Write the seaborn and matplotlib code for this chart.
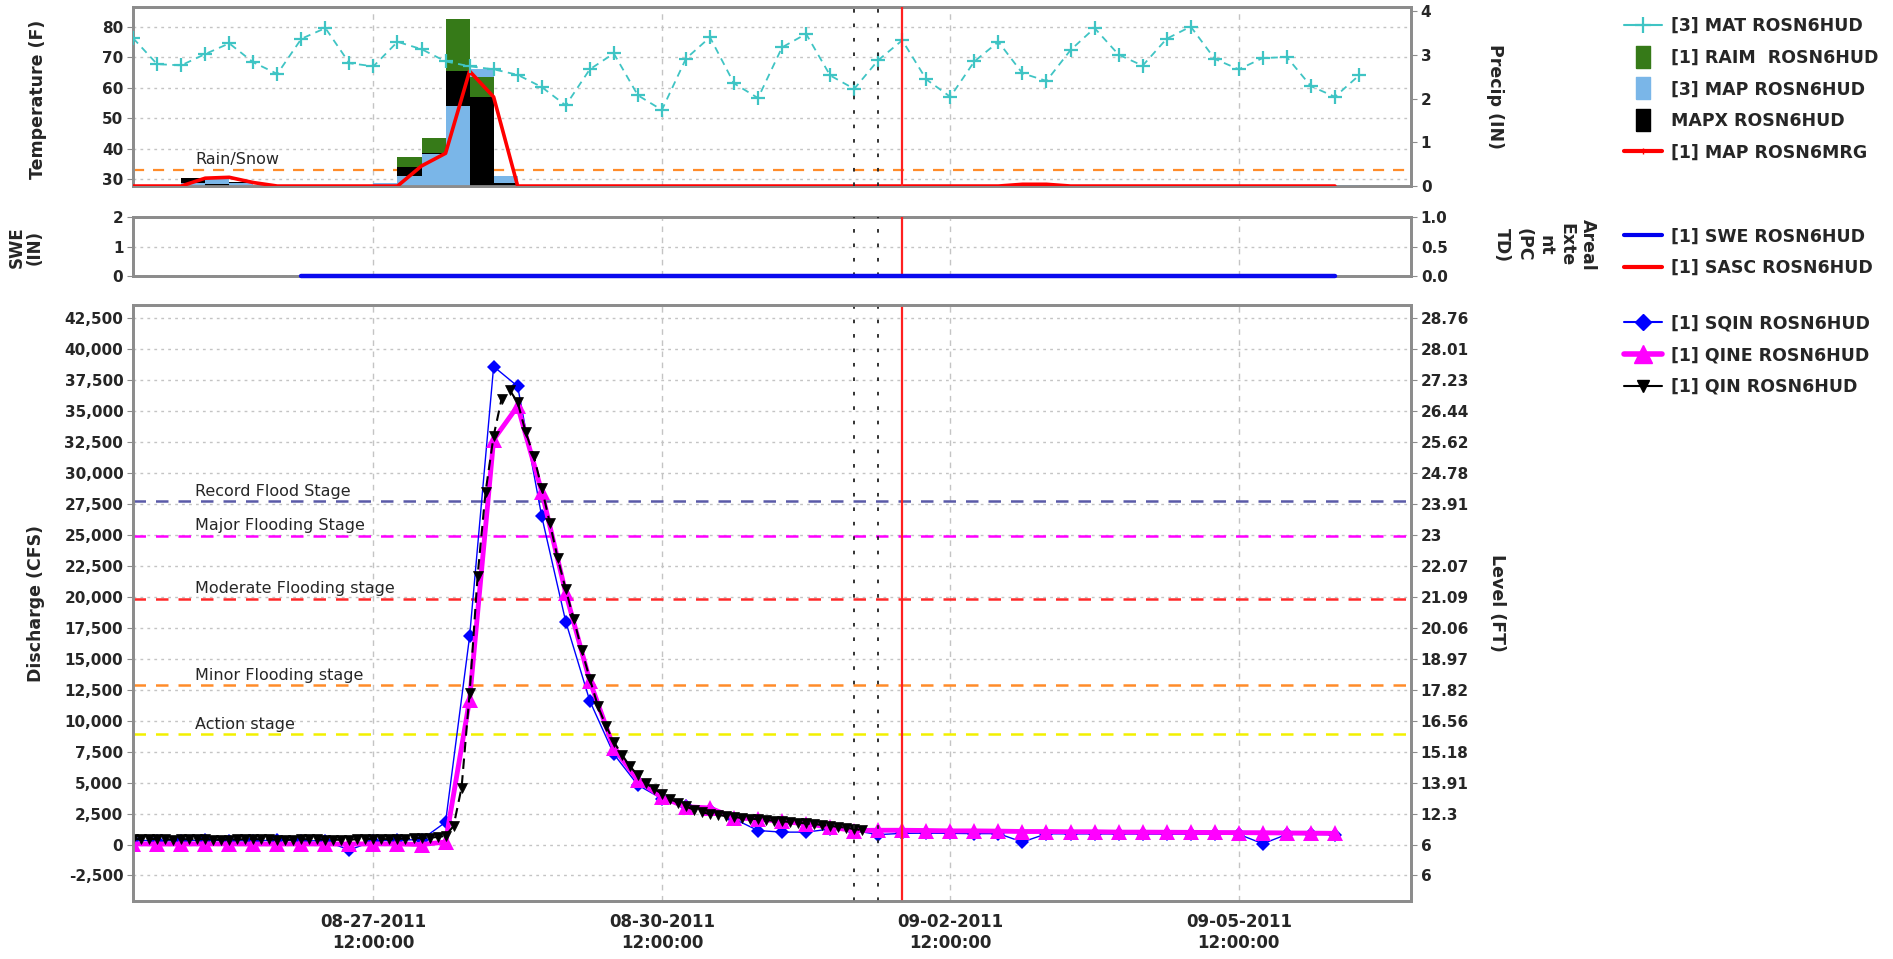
import numpy as np
import pandas as pd
import matplotlib
matplotlib.use('Agg')
import matplotlib.pyplot as plt
import matplotlib.dates as mdates
from matplotlib.lines import Line2D
from matplotlib.ticker import FuncFormatter
import seaborn as sns

# ---- data ----
# temperature (MAT), 6-hourly from 08-25 00:00
mat_times = pd.date_range('2011-08-25 00:00', periods=52, freq='6h')
mat_values = [76.2, 67.7, 67.3, 71, 74.5, 68.3, 64.5, 76, 79.5, 68, 67, 75,
              72.6, 68.6, 67, 66, 64.2, 60.2, 54.2, 66, 71.2, 57.5, 52.7, 69.5,
              76.5, 61.4, 56.6, 73.2, 77.6, 64, 59.6, 69, 75.5, 62.7, 57, 68.6,
              75, 64.7, 62.2, 72.3, 79.5, 70.8, 67.2, 76, 80, 69.4, 66, 69.7,
              70, 60.5, 57, 64]

# precip bars (6-hour periods, start time)
raim_times = ['2011-08-27 18:00', '2011-08-28 00:00', '2011-08-28 06:00', '2011-08-28 12:00']
raim_values = [0.67, 1.09, 3.83, 2.5]
map_times = ['2011-08-25 12:00', '2011-08-25 18:00', '2011-08-26 00:00', '2011-08-27 12:00',
             '2011-08-27 18:00', '2011-08-28 00:00', '2011-08-28 06:00', '2011-08-28 12:00',
             '2011-08-28 18:00', '2011-09-06 12:00']
map_values = [0.08, 0.18, 0.06, 0.08, 0.23, 0.74, 1.83, 2.69, 0.23, 0.03]
mapx_times = ['2011-08-25 12:00', '2011-08-25 18:00', '2011-08-26 00:00', '2011-08-27 18:00',
              '2011-08-28 00:00', '2011-08-28 06:00', '2011-08-28 12:00', '2011-08-28 18:00']
mapx_values = [0.18, 0.05, 0.1, 0.44, 0.75, 2.63, 2.04, 0.08]

# merged MAP line, 6-hourly from 08-25 00:00
mrg_times = pd.date_range('2011-08-25 00:00', periods=51, freq='6h')
mrg_values = [0, 0, 0, 0.18, 0.2, 0.08, 0, 0, 0, 0, 0, 0,
              0.46, 0.75, 2.63, 2.04, 0, 0, 0, 0, 0, 0, 0, 0,
              0, 0, 0, 0, 0, 0, 0, 0, 0, 0, 0, 0,
              0, 0.04, 0.04, 0, 0, 0, 0, 0, 0, 0, 0, 0,
              0, 0, 0]

# SWE
swe_times = ['2011-08-26 18:00', '2011-09-06 12:00']
swe_values = [0, 0]

# discharge, 6-hourly from 08-25 00:00
q6_times = pd.date_range('2011-08-25 00:00', periods=51, freq='6h')
sqin_values = [350, 300, 300, 350, 300, 300, 350, 300, 300, -450, 300, 350,
               400, 1800, 16800, 38600, 37000, 26500, 18000, 11600,
               7300, 4800, 3700, 3150, 2750, 2070, 1130, 1000,
               1000, 1250, 1130, 800, 900, 920, 900, 880,
               880, 200, 870, 860, 860, 850, 850, 840,
               840, 830, 830, 60, 820, 810, 800]
qine_values = [50, 40, 40, 50, 50, 40, 40, 50, 40, 40, 50, 50,
               0, 200, 11700, 32700, 35400, 28500, 20300, 13200,
               7800, 5200, 3800, 3050, 2950, 2150, 2070, 1860,
               1670, 1400, 1130, 1150, 1150, 1130, 1100, 1100,
               1080, 1050, 1050, 1030, 1030, 1000, 1000, 990,
               980, 970, 960, 950, 930, 920, 900]

# observed discharge, 2-hourly from 08-25 00:00
qin_times = pd.date_range('2011-08-25 00:00', periods=92, freq='2h')
qin_values = [420, 440, 450, 430, 410, 400, 420, 430, 440, 420, 400, 390,
              400, 410, 430, 440, 420, 410, 400, 390, 400, 420, 430, 410,
              400, 390, 380, 400, 420, 440, 450, 440, 430, 450, 480, 500,
              520, 560, 600,
              700, 1500, 4600, 12200, 21700, 28500, 33000, 36000, 36700,
              35700, 33300, 31400, 28800, 26000, 23100, 20600, 18200, 15700, 13400, 11200, 9600,
              8300, 7250, 6330, 5580, 4960, 4500, 4100, 3690, 3370, 3070, 2800, 2610,
              2450, 2380, 2300, 2220, 2150, 2100, 2030, 1980, 1920, 1870, 1820, 1760,
              1700, 1640, 1580, 1500, 1430, 1350, 1250, 1150]

stage_names = ['Record Flood Stage', 'Major Flooding Stage', 'Moderate Flooding stage',
               'Minor Flooding stage', 'Action stage']
stage_flows = [27700, 24900, 19850, 12850, 8900]
stage_colors = ['#5a5aa8', '#ff00ff', '#ff2a2a', '#ff8c2a', '#f2f000']

q_ticks = list(range(-2500, 42501, 2500))
level_labels = ['6', '6', '12.3', '13.91', '15.18', '16.56', '17.82', '18.97', '20.06',
                '21.09', '22.07', '23', '23.91', '24.78', '25.62', '26.44', '27.23',
                '28.01', '28.76']

date_ticks = pd.to_datetime(['2011-08-27 12:00', '2011-08-30 12:00',
                             '2011-09-02 12:00', '2011-09-05 12:00'])
obs_marks = pd.to_datetime(['2011-09-01 12:00', '2011-09-01 18:00'])
now_mark = pd.Timestamp('2011-09-02 00:00')
x_range = pd.to_datetime(['2011-08-25 00:00', '2011-09-07 07:00'])

# ---- style ----
sns.set_style('white')
plt.rcParams['font.family'] = ['DejaVu Sans']
plt.rcParams['font.weight'] = 'bold'

FRAME = '#8c8c8c'
GRID = '#c4c4c4'
CYAN = '#3fc4c4'

fig = plt.figure(figsize=(18.93, 9.59), dpi=100)
L, W = 0.0703, 0.6751
ax_t = fig.add_axes([L, 0.806, W, 0.1867])
ax_s = fig.add_axes([L, 0.7122, W, 0.0615], sharex=ax_t)
ax_q = fig.add_axes([L, 0.0605, W, 0.6215], sharex=ax_t)

ax_p = ax_t.twinx()
ax_m = ax_t.twinx()
ax_t.set_zorder(1)
ax_p.set_zorder(2)
ax_m.set_zorder(3)
ax_p.patch.set_visible(False)
ax_m.patch.set_visible(False)

# ---- top panel ----
sns.lineplot(x=mat_times, y=mat_values, ax=ax_m, color=CYAN, lw=1.3,
             linestyle=(0, (4, 3)), marker='+', markersize=10, mew=1.6,
             mec=CYAN, legend=False)

bar_sets = [(raim_times, raim_values, '#367a18'),
            (map_times, map_values, '#7ab6e8'),
            (mapx_times, mapx_values, 'black')]
for t, v, c in bar_sets:
    bars = ax_p.bar(mdates.date2num(pd.to_datetime(t)), v, width=0.25,
                    align='edge', color=c, linewidth=0)
    for b, val in zip(bars, v):
        b.set_zorder(2 + (5 - val) / 10)

sns.lineplot(x=mrg_times, y=mrg_values, ax=ax_p, color='#ff0000', lw=2.6,
             legend=False, zorder=5)

ax_t.axhline(33.2, color='#ff8c2a', lw=1.6, ls=(0, (5, 4)))
ax_t.annotate('Rain/Snow', xy=(0.0485, 33.2), xycoords=('axes fraction', 'data'),
              xytext=(0, 2), textcoords='offset points', va='bottom',
              fontsize=11.5, fontweight='normal')

ax_t.set_ylim(27.8, 86.4)
ax_m.set_ylim(27.8, 86.4)
ax_p.set_ylim(0, 4.1)
ax_t.set_yticks([30, 40, 50, 60, 70, 80])
ax_p.set_yticks([0, 1, 2, 3, 4])
ax_m.yaxis.set_visible(False)
for s in ax_m.spines.values():
    s.set_visible(False)

# ---- middle panel ----
ax_a = ax_s.twinx()
ax_s.set_zorder(2)
ax_a.set_zorder(1)
ax_s.patch.set_visible(False)
sns.lineplot(x=pd.to_datetime(swe_times), y=swe_values, ax=ax_s, color='#0a0aee',
             lw=3.2, legend=False, zorder=10, clip_on=False)
ax_s.set_ylim(0, 2)
ax_s.set_yticks([0, 1, 2])
ax_a.set_ylim(0, 1)
ax_a.set_yticks([0, 0.5, 1.0])
ax_a.yaxis.set_major_formatter(FuncFormatter(lambda v, p: f'{v:.1f}'))

# ---- bottom panel ----
ax_l = ax_q.twinx()
for name, flow, col in zip(stage_names, stage_flows, stage_colors):
    ax_q.axhline(flow, color=col, lw=1.8, ls=(0, (5, 4)), zorder=1.5)
    ax_q.annotate(name, xy=(0.0485, flow), xycoords=('axes fraction', 'data'),
                  xytext=(0, 2), textcoords='offset points', va='bottom',
                  fontsize=11.5, fontweight='normal')

sns.lineplot(x=q6_times, y=sqin_values, ax=ax_q, color='#0000ff', lw=1,
             marker='D', markersize=7, mec='#0000ff', mew=0, legend=False, zorder=3)
sns.lineplot(x=q6_times, y=qine_values, ax=ax_q, color='#ff00ff', lw=3.5,
             marker='^', markersize=12, mec='#ff00ff', mew=0, legend=False, zorder=4)
sns.lineplot(x=qin_times, y=qin_values, ax=ax_q, color='black', lw=1.5,
             linestyle=(0, (5, 3)), marker='v', markersize=7, mec='black', mew=0.5,
             legend=False, zorder=5)

ax_q.set_ylim(-4560, 43570)
ax_q.set_yticks(q_ticks)
ax_q.yaxis.set_major_formatter(FuncFormatter(lambda v, p: f'{v:,.0f}'))
ax_l.set_ylim(-4560, 43570)
ax_l.set_yticks(q_ticks)
ax_l.set_yticklabels(level_labels)

# ---- shared decorations ----
for ax in (ax_t, ax_s, ax_q):
    ax.set_xlim(x_range[0], x_range[1])
    ax.set_xticks(date_ticks)
    ax.grid(axis='y', ls=(0, (2, 3)), color=GRID, lw=1)
    ax.grid(axis='x', ls=(0, (4, 4)), color=GRID, lw=1)
    ax.set_axisbelow(True)
    ax.set_xlabel('')
    ax.set_ylabel('')

for ax in (ax_m, ax_s, ax_q):
    ax.axvline(now_mark, color='#ff2020', lw=1.6, zorder=6)
    for d in obs_marks:
        ax.axvline(d, color='#222222', lw=1.3, ls=(0, (2, 6)), zorder=6)

ax_q.xaxis.set_major_formatter(mdates.DateFormatter('%m-%d-%Y\n%H:%M:%S'))
ax_q.tick_params(axis='x', direction='out', length=5, color=FRAME, labelsize=12, pad=4)
ax_t.tick_params(axis='x', length=0, labelbottom=False)
ax_s.tick_params(axis='x', length=0, labelbottom=False)

for ax in (ax_t, ax_p, ax_s, ax_a, ax_q, ax_l):
    ax.tick_params(axis='y', direction='out', length=4, color=FRAME, labelsize=11, pad=3)
    for s in ax.spines.values():
        s.set_color(FRAME)
        s.set_linewidth(2)

# ---- axis titles ----
fig.text(0.0201, 0.8962, 'Temperature (F)', rotation=90, ha='center', va='center', fontsize=12.5)
fig.text(0.0135, 0.7424, 'SWE\n(IN)', rotation=90, ha='center', va='center',
         fontsize=12, linespacing=0.95)
fig.text(0.0190, 0.3712, 'Discharge (CFS)', rotation=90, ha='center', va='center', fontsize=12.5)
fig.text(0.7898, 0.8989, 'Precip (IN)', rotation=270, ha='center', va='center', fontsize=12.5)
fig.text(0.8162, 0.7445, 'Areal\nExte\nnt\n(PC\nTD)', rotation=270, ha='center', va='center',
         fontsize=12.5, linespacing=1.25, multialignment='center')
fig.text(0.7908, 0.3712, 'Level (FT)', rotation=270, ha='center', va='center', fontsize=12.5)

# ---- legends ----
rect = [(-0.6, -1), (0.6, -1), (0.6, 1), (-0.6, 1), (-0.6, -1)]
top_handles = [
    Line2D([], [], color=CYAN, lw=1.5, marker='+', markersize=12, mew=1.6),
    Line2D([], [], color='#367a18', lw=0, marker=rect, markersize=16),
    Line2D([], [], color='#7ab6e8', lw=0, marker=rect, markersize=16),
    Line2D([], [], color='black', lw=0, marker=rect, markersize=16),
    Line2D([], [], color='#ff0000', lw=3, marker='|', markersize=5),
]
top_labels = ['[3] MAT ROSN6HUD', '[1] RAIM  ROSN6HUD', '[3] MAP ROSN6HUD',
              'MAPX ROSN6HUD', '[1] MAP ROSN6MRG']
mid_handles = [Line2D([], [], color='#0000ee', lw=3), Line2D([], [], color='#ff0000', lw=3)]
mid_labels = ['[1] SWE ROSN6HUD', '[1] SASC ROSN6HUD']
bot_handles = [
    Line2D([], [], color='#0000ff', lw=1.5, marker='D', markersize=8),
    Line2D([], [], color='#ff00ff', lw=4, marker='^', markersize=13),
    Line2D([], [], color='black', lw=1.5, marker='v', markersize=8),
]
bot_labels = ['[1] SQIN ROSN6HUD', '[1] QINE ROSN6HUD', '[1] QIN ROSN6HUD']

for h, lab, y in ((top_handles, top_labels, 0.982),
                  (mid_handles, mid_labels, 0.763),
                  (bot_handles, bot_labels, 0.672)):
    fig.legend(h, lab, loc='upper left', bbox_to_anchor=(0.858, y), frameon=False,
               fontsize=12.5, handlelength=2.2, handletextpad=0.5, labelspacing=0.78,
               borderpad=0, borderaxespad=0)

fig.savefig('out.png', dpi=100)
